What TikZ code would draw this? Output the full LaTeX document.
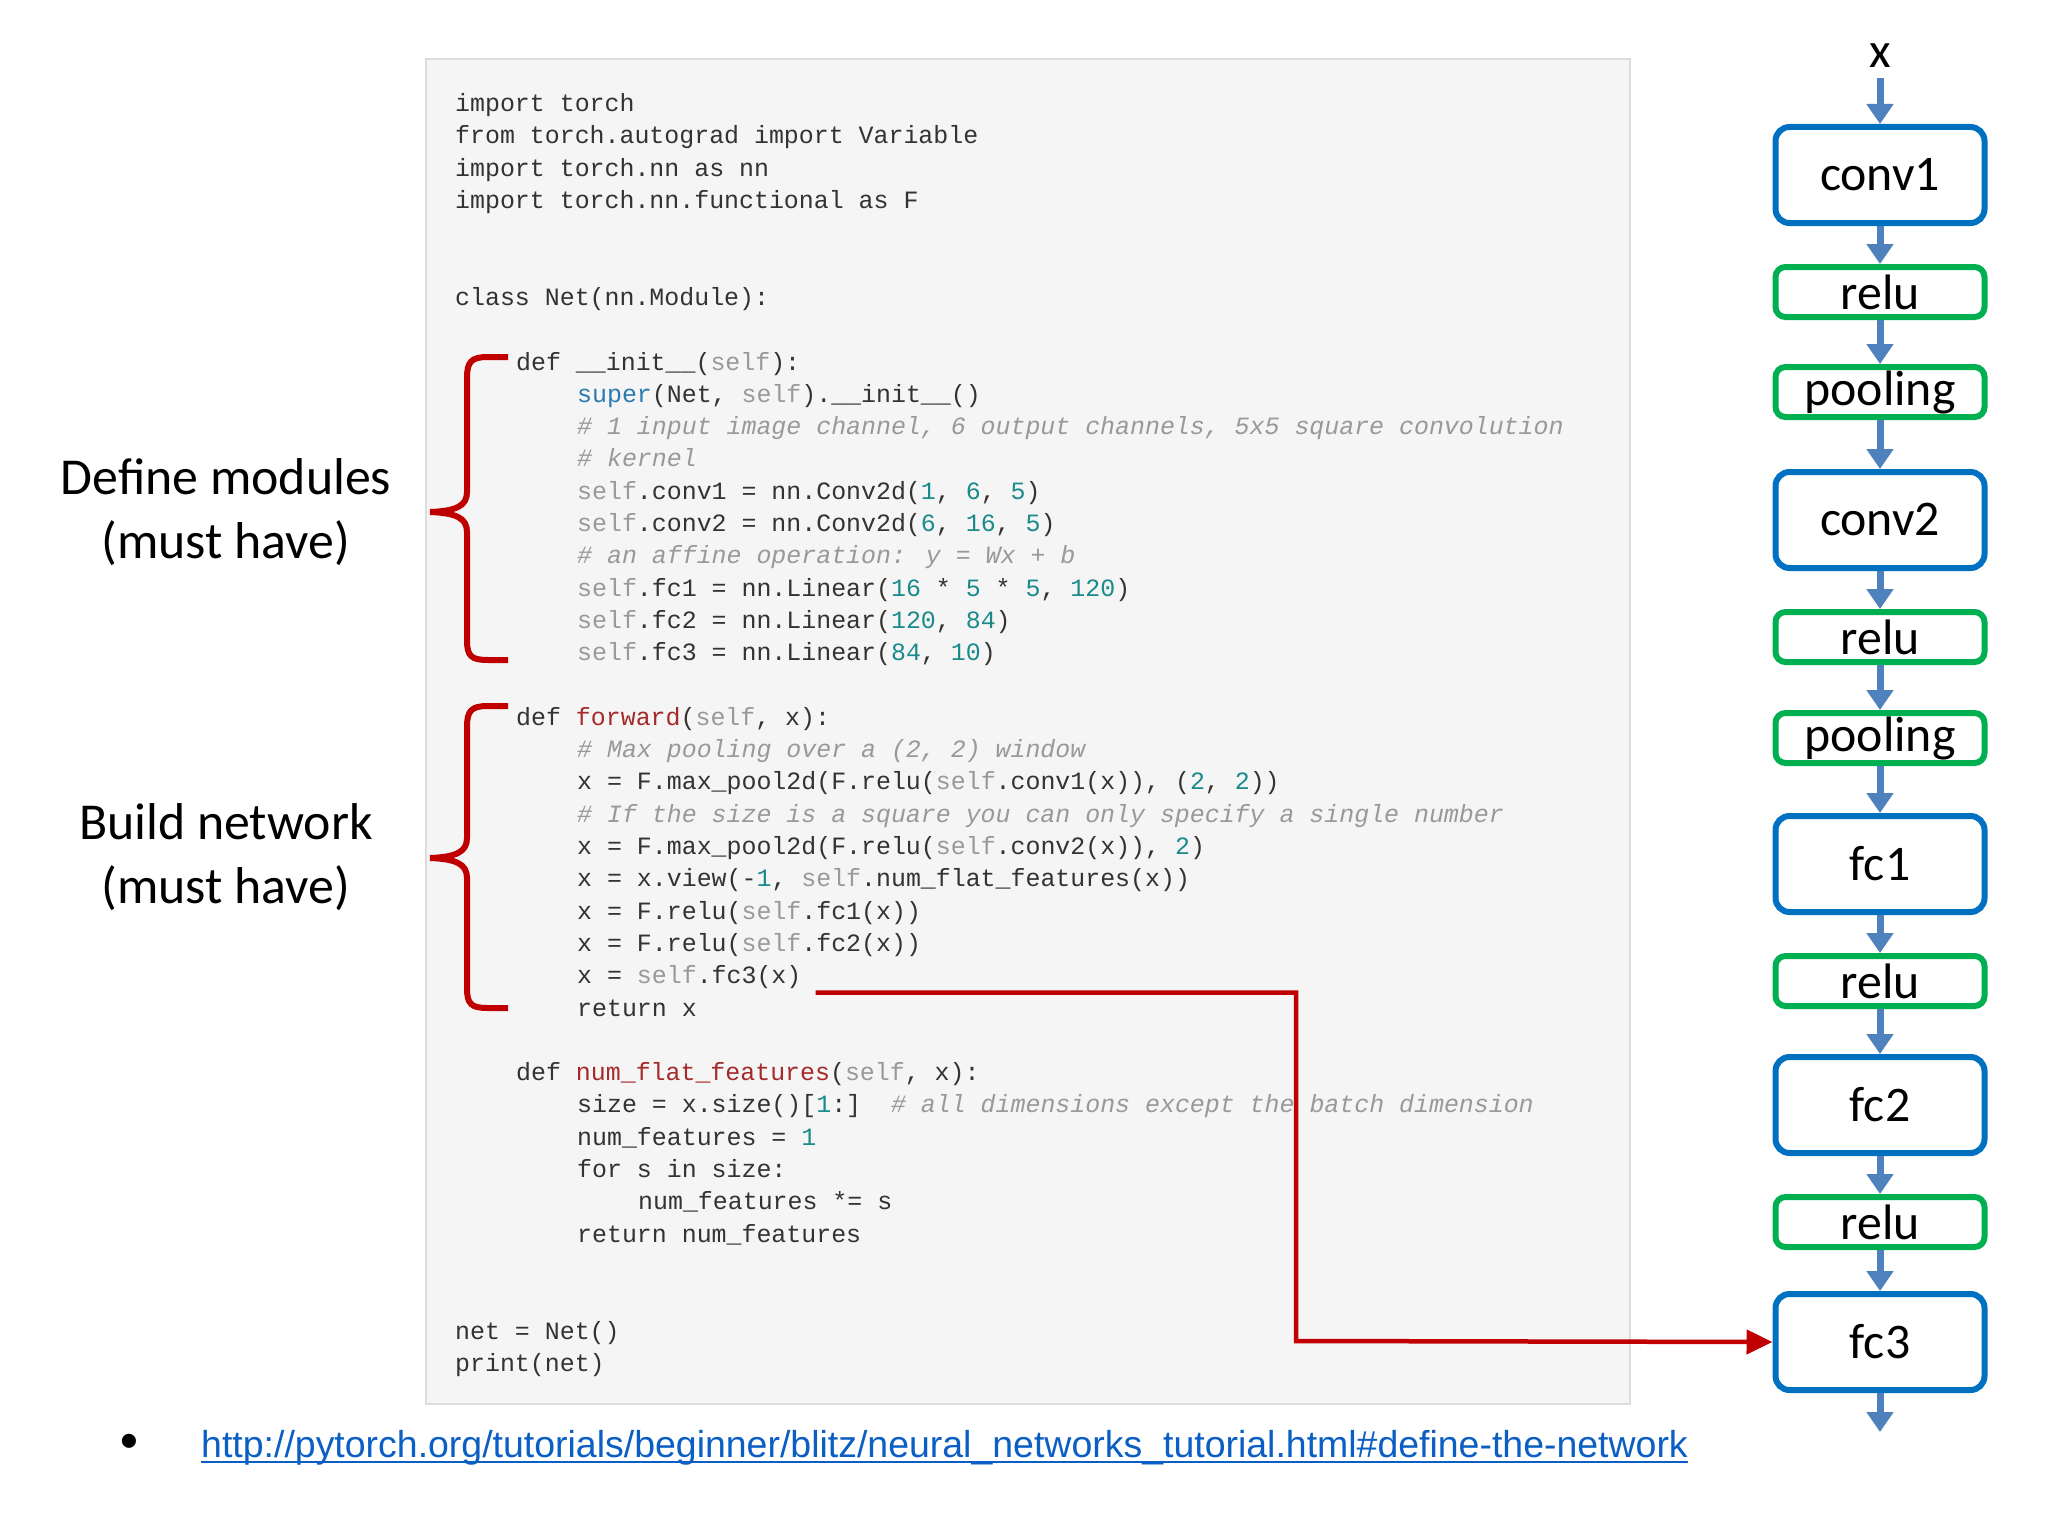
\documentclass[tikz,border=0pt]{standalone}
\usepackage{fontspec}
\setmainfont{Carlito}
\newfontfamily\codefont{Liberation Mono}
\newfontfamily\linkfont{Liberation Sans}
\usetikzlibrary{arrows.meta}
\definecolor{codebg}{HTML}{F5F5F5}
\definecolor{codeborder}{HTML}{DDDDDD}
\definecolor{codetxt}{HTML}{333333}
\definecolor{cmt}{HTML}{999999}
\definecolor{nmb}{HTML}{1A8A8A}
\definecolor{supc}{HTML}{2A7AB0}
\definecolor{fnc}{HTML}{A52A2A}
\definecolor{bbox}{HTML}{0070C0}
\definecolor{gbox}{HTML}{00B050}
\definecolor{arr}{HTML}{4F81BD}
\definecolor{redc}{HTML}{C00000}
\definecolor{linkc}{HTML}{0B5FC4}
\newcommand\cm[1]{\textcolor{cmt}{\itshape #1}}
\newcommand\nb[1]{\textcolor{nmb}{#1}}
\newcommand\slf{\textcolor{cmt}{self}}
\newcommand\spr{\textcolor{supc}{super}}
\newcommand\fn[1]{\textcolor{fnc}{#1}}
\tikzset{
  x=1bp, y=-1bp,
  code/.style={anchor=base west, inner sep=0pt, text=codetxt, font=\codefont\fontsize{25}{30}\selectfont},
  bx/.style={draw=bbox, line width=6bp, rounded corners=14bp, minimum width=209bp, minimum height=96bp, inner sep=0pt, font=\fontsize{50}{60}\selectfont},
  gx/.style={draw=gbox, line width=6bp, rounded corners=10bp, minimum width=209bp, minimum height=50bp, inner sep=0pt, font=\fontsize{50}{60}\selectfont},
  flow/.style={draw=arr, line width=7bp, -{Triangle[width=26bp,length=20bp]}},
  brace/.style={draw=redc, line width=6bp},
  lbl/.style={font=\fontsize{52}{64}\selectfont, align=center}
}
\begin{document}
\begin{tikzpicture}
\useasboundingbox (0,0) rectangle (2048,1536);
\fill[white] (0,0) rectangle (2048,1536);
\draw[codeborder, fill=codebg, line width=1.5bp] (426,59) rectangle (1630,1404);
% code lines
\def\Lx{455}\def\Lxa{516}\def\Lxb{577}\def\Lxc{638}
\node[code] (l0) at (\Lx,{103.6+32.3*0+8}) {import torch};
\node[code] (l1) at (\Lx,{103.6+32.3*1+8}) {from torch.autograd import Variable};
\node[code] (l2) at (\Lx,{103.6+32.3*2+8}) {import torch.nn as nn};
\node[code] (l3) at (\Lx,{103.6+32.3*3+8}) {import torch.nn.functional as F};
\node[code] (l6) at (\Lx,{103.6+32.3*6+8}) {class Net(nn.Module):};
\node[code] (l8) at (\Lxa,{103.6+32.3*8+8}) {def \_\_init\_\_(\slf):};
\node[code] (l9) at (\Lxb,{103.6+32.3*9+8}) {\spr(Net, \slf).\_\_init\_\_()};
\node[code] (l10) at (\Lxb,{103.6+32.3*10+8}) {\cm{\# 1 input image channel, 6 output channels, 5x5 square convolution}};
\node[code] (l11) at (\Lxb,{103.6+32.3*11+8}) {\cm{\# kernel}};
\node[code] (l12) at (\Lxb,{103.6+32.3*12+8}) {\slf.conv1 = nn.Conv2d(\nb{1}, \nb{6}, \nb{5})};
\node[code] (l13) at (\Lxb,{103.6+32.3*13+8}) {\slf.conv2 = nn.Conv2d(\nb{6}, \nb{16}, \nb{5})};
\node[code] (l14) at (\Lxb,{103.6+32.3*14+8}) {\cm{\# an affine operation: y = Wx + b}};
\node[code] (l15) at (\Lxb,{103.6+32.3*15+8}) {\slf.fc1 = nn.Linear(\nb{16} * \nb{5} * \nb{5}, \nb{120})};
\node[code] (l16) at (\Lxb,{103.6+32.3*16+8}) {\slf.fc2 = nn.Linear(\nb{120}, \nb{84})};
\node[code] (l17) at (\Lxb,{103.6+32.3*17+8}) {\slf.fc3 = nn.Linear(\nb{84}, \nb{10})};
\node[code] (l19) at (\Lxa,{103.6+32.3*19+8}) {def \fn{forward}(\slf, x):};
\node[code] (l20) at (\Lxb,{103.6+32.3*20+8}) {\cm{\# Max pooling over a (2, 2) window}};
\node[code] (l21) at (\Lxb,{103.6+32.3*21+8}) {x = F.max\_pool2d(F.relu(\slf.conv1(x)), (\nb{2}, \nb{2}))};
\node[code] (l22) at (\Lxb,{103.6+32.3*22+8}) {\cm{\# If the size is a square you can only specify a single number}};
\node[code] (l23) at (\Lxb,{103.6+32.3*23+8}) {x = F.max\_pool2d(F.relu(\slf.conv2(x)), \nb{2})};
\node[code] (l24) at (\Lxb,{103.6+32.3*24+8}) {x = x.view(-\nb{1}, \slf.num\_flat\_features(x))};
\node[code] (l25) at (\Lxb,{103.6+32.3*25+8}) {x = F.relu(\slf.fc1(x))};
\node[code] (l26) at (\Lxb,{103.6+32.3*26+8}) {x = F.relu(\slf.fc2(x))};
\node[code] (l27) at (\Lxb,{103.6+32.3*27+8}) {x = \slf.fc3(x)};
\node[code] (l28) at (\Lxb,{103.6+32.3*28+8}) {return x};
\node[code] (l30) at (\Lxa,{103.6+32.3*30+8}) {def \fn{num\_flat\_features}(\slf, x):};
\node[code] (l31) at (\Lxb,{103.6+32.3*31+8}) {size = x.size()[\nb{1}:]~~\cm{\# all dimensions except the batch dimension}};
\node[code] (l32) at (\Lxb,{103.6+32.3*32+8}) {num\_features = \nb{1}};
\node[code] (l33) at (\Lxb,{103.6+32.3*33+8}) {for s in size:};
\node[code] (l34) at (\Lxc,{103.6+32.3*34+8}) {num\_features *= s};
\node[code] (l35) at (\Lxb,{103.6+32.3*35+8}) {return num\_features};
\node[code] (l38) at (\Lx,{103.6+32.3*38+8}) {net = Net()};
\node[code] (l39) at (\Lx,{103.6+32.3*39+8}) {print(net)};
% braces
\path[brace] (508,357) -- (488,357) .. controls (471,357) and (467,362) .. (467,378) -- (467,492) .. controls (467,506) and (456,511) .. (430,512) .. controls (456,513) and (467,518) .. (467,532) -- (467,640) .. controls (467,656) and (471,660) .. (488,660) -- (508,660);
\path[brace] (508,706) -- (488,706) .. controls (471,706) and (467,711) .. (467,727) -- (467,838) .. controls (467,852) and (456,857) .. (430,858) .. controls (456,859) and (467,864) .. (467,878) -- (467,988) .. controls (467,1004) and (471,1008) .. (488,1008) -- (508,1008);
\node[lbl] (def) at (226,512) {Define modules\\(must have)};
\node[lbl] (bld) at (226,857) {Build network\\(must have)};
% flow
\node[font=\fontsize{50}{60}\selectfont, inner sep=0pt] (x) at (1880,56) {x};
\node[bx] (c1) at (1880,175) {conv1};
\node[gx] (r1) at (1880,292) {relu};
\node[gx] (p1) at (1880,392) {pooling};
\node[bx] (c2) at (1880,520) {conv2};
\node[gx] (r2) at (1880,637) {relu};
\node[gx] (p2) at (1880,738) {pooling};
\node[bx] (f1) at (1880,864) {fc1};
\node[gx] (r3) at (1880,981) {relu};
\node[bx] (f2) at (1880,1105) {fc2};
\node[gx] (r4) at (1880,1222) {relu};
\node[bx] (f3) at (1880,1342) {fc3};
\coordinate (out) at (1880,1432);
\draw[flow] (1880,78) -- (c1.north);
\draw[flow] (c1.south) -- (r1.north);
\draw[flow] (r1.south) -- (p1.north);
\draw[flow] (p1.south) -- (c2.north);
\draw[flow] (c2.south) -- (r2.north);
\draw[flow] (r2.south) -- (p2.north);
\draw[flow] (p2.south) -- (f1.north);
\draw[flow] (f1.south) -- (r3.north);
\draw[flow] (r3.south) -- (f2.north);
\draw[flow] (f2.south) -- (r4.north);
\draw[flow] (r4.south) -- (f3.north);
\draw[flow] (f3.south) -- (out);
% red connector
\coordinate (rs) at ([xshift=14bp,yshift=-9bp]l27.base east);
\draw[redc, line width=4.5bp, -{Triangle[width=24bp,length=26bp]}] (rs) -| (1296,1341) -- (f3.west);
% link
\node[font=\fontsize{40}{48}\selectfont, inner sep=0pt] (bul) at (129,1443) {•};
\node[anchor=base west, inner sep=0pt, text=linkc, font=\linkfont\fontsize{37.6}{44}\selectfont] (link) at (201,1457) {http://pytorch.org/tutorials/beginner/blitz/neural\_networks\_tutorial.html\#define-the-network};
\draw[linkc, line width=2bp] ([yshift=-5bp]link.base west) -- ([yshift=-5bp]link.base east);
\end{tikzpicture}
\end{document}
